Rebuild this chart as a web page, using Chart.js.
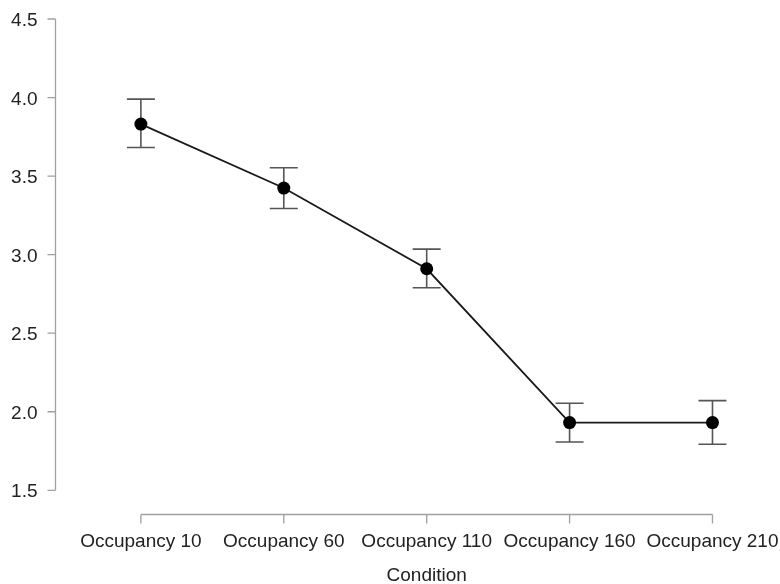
<!DOCTYPE html>
<html>
<head>
<meta charset="utf-8">
<script src="https://cdn.jsdelivr.net/npm/chart.js@4/dist/chart.umd.min.js"></script>
<style>
  html, body { margin: 0; padding: 0; background: #fff; }
  canvas { display: block; }
</style>
</head>
<body>
<canvas id="chart" width="780" height="584"></canvas>
<script>
// Conditions and mean ratings with their interval bounds
const categories = ['Occupancy 10', 'Occupancy 60', 'Occupancy 110', 'Occupancy 160', 'Occupancy 210'];
const means = [3.831, 3.424, 2.910, 1.931, 1.931];
const lower = [3.682, 3.294, 2.789, 1.807, 1.793];
const upper = [3.990, 3.553, 3.035, 2.054, 2.071];
const yTicks = [1.5, 2.0, 2.5, 3.0, 3.5, 4.0, 4.5];
const xTitle = 'Condition';

const FONT = '"Liberation Sans", Arial, sans-serif';
const FONT_SIZE = 19;
const AXIS_COLOR = '#a0a0a0';
const TEXT_COLOR = '#222';

const points = means.map((v, i) => ({ x: i, y: v }));

// Error bars, detached axes with outward ticks, tick labels and the axis title
const decorations = {
  id: 'decorations',
  beforeDatasetsDraw(chart) {
    const { ctx, scales: { x, y } } = chart;
    ctx.save();
    ctx.strokeStyle = '#555';
    ctx.lineWidth = 1.6;
    const half = 14;
    categories.forEach((c, i) => {
      const px = x.getPixelForValue(i);
      const top = y.getPixelForValue(upper[i]);
      const bot = y.getPixelForValue(lower[i]);
      ctx.beginPath();
      ctx.moveTo(px, top); ctx.lineTo(px, bot);
      ctx.moveTo(px - half, top); ctx.lineTo(px + half, top);
      ctx.moveTo(px - half, bot); ctx.lineTo(px + half, bot);
      ctx.stroke();
    });
    ctx.restore();
  },
  afterDraw(chart) {
    const { ctx, chartArea, scales: { x, y } } = chart;
    ctx.save();
    ctx.strokeStyle = AXIS_COLOR;
    ctx.lineWidth = 1.3;
    ctx.fillStyle = TEXT_COLOR;
    ctx.font = FONT_SIZE + 'px ' + FONT;

    // y axis
    const ax = Math.round(chartArea.left) - 0.5;
    ctx.beginPath();
    ctx.moveTo(ax, y.getPixelForValue(yTicks[0]));
    ctx.lineTo(ax, y.getPixelForValue(yTicks[yTicks.length - 1]));
    yTicks.forEach(t => {
      const py = y.getPixelForValue(t);
      ctx.moveTo(ax - 8, py); ctx.lineTo(ax, py);
    });
    ctx.stroke();
    ctx.textAlign = 'right';
    ctx.textBaseline = 'alphabetic';
    yTicks.forEach(t => {
      const py = y.getPixelForValue(t);
      ctx.fillText(t.toFixed(1), ax - 18, py + 7);
    });

    // x axis
    const ay = Math.round(chartArea.bottom) + 0.5;
    ctx.beginPath();
    ctx.moveTo(x.getPixelForValue(0), ay);
    ctx.lineTo(x.getPixelForValue(categories.length - 1), ay);
    categories.forEach((c, i) => {
      const px = x.getPixelForValue(i);
      ctx.moveTo(px, ay); ctx.lineTo(px, ay + 9);
    });
    ctx.stroke();
    ctx.textAlign = 'center';
    categories.forEach((c, i) => {
      ctx.fillText(c, x.getPixelForValue(i), ay + 32);
    });

    // axis title
    ctx.fillText(xTitle, x.getPixelForValue((categories.length - 1) / 2), 581);
    ctx.restore();
  }
};

new Chart(document.getElementById('chart'), {
  type: 'line',
  data: {
    datasets: [{
      data: points,
      borderColor: '#1a1a1a',
      borderWidth: 1.8,
      backgroundColor: '#000',
      pointBackgroundColor: '#000',
      pointBorderColor: '#000',
      pointRadius: 6.5,
      pointBorderWidth: 0,
      tension: 0
    }]
  },
  options: {
    responsive: false,
    animation: false,
    layout: { padding: { top: 19, right: 0, left: 0, bottom: 0 } },
    plugins: { legend: { display: false }, tooltip: { enabled: false } },
    scales: {
      x: {
        type: 'linear',
        min: -0.594,
        max: 4.427,
        grid: { display: false, drawTicks: false },
        border: { display: false },
        ticks: { display: false },
        afterFit(scale) { scale.height = 70; }
      },
      y: {
        min: 1.349,
        max: 4.5,
        grid: { display: false, drawTicks: false },
        border: { display: false },
        ticks: { display: false },
        afterFit(scale) { scale.width = 56; }
      }
    }
  },
  plugins: [decorations]
});
</script>
</body>
</html>
